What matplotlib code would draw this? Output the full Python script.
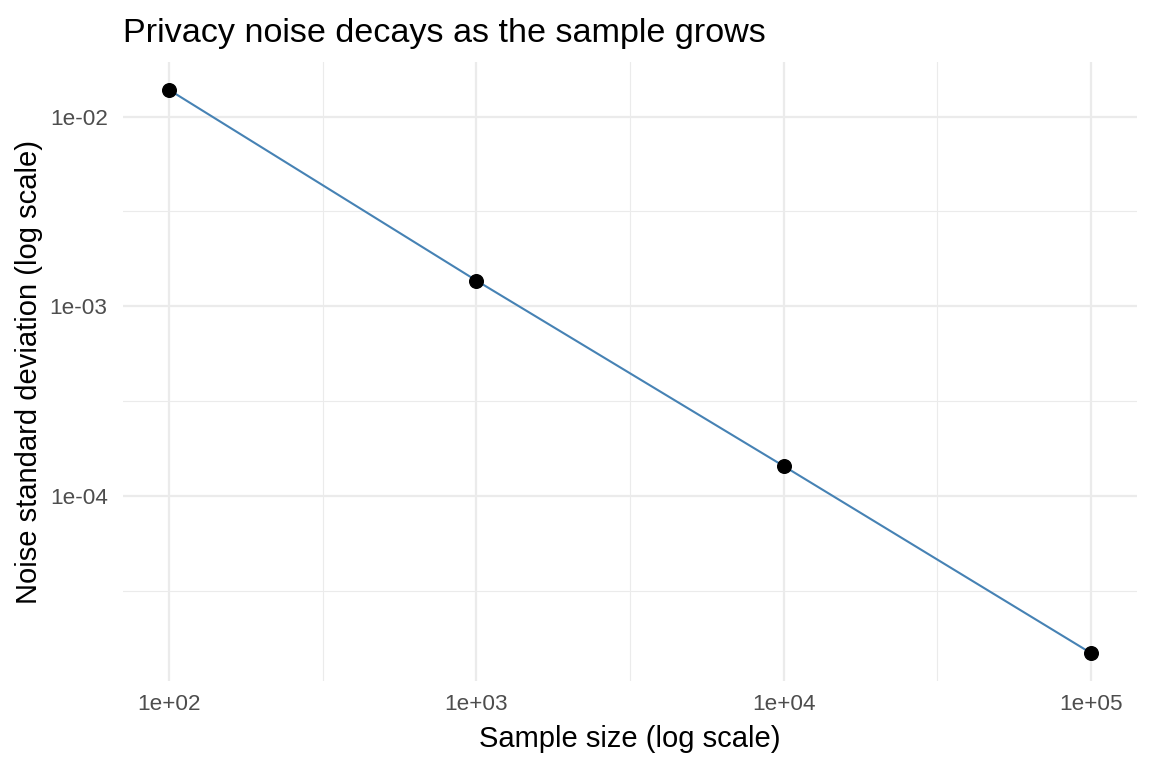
import matplotlib
matplotlib.use("Agg")
import matplotlib.pyplot as plt
import numpy as np

# data
sample_sizes = [1e2, 1e3, 1e4, 1e5]
noise_sd = [1.385e-2, 1.366e-3, 1.435e-4, 1.48e-5]

x_breaks = [1e2, 1e3, 1e4, 1e5]
x_labels = ["1e+02", "1e+03", "1e+04", "1e+05"]
y_breaks = [1e-4, 1e-3, 1e-2]
y_labels = ["1e-04", "1e-03", "1e-02"]

plt.rcParams['font.family'] = ['Liberation Sans', 'DejaVu Sans']

W, H = 1152, 768
fig = plt.figure(figsize=(W / 100, H / 100), dpi=100)
# panel placement (pixels): left 123, right 1137, top 61.7, bottom 681.2
ax = fig.add_axes([123 / W, 1 - 681.2 / H, (1137 - 123) / W, (681.2 - 61.7) / H])

ax.plot(sample_sizes, noise_sd, color='#4682B4', linewidth=1.5, zorder=3)
ax.plot(sample_sizes, noise_sd, 'o', color='black', markersize=9.8, zorder=4)

ax.set_xscale('log')
ax.set_yscale('log')

ax.set_xticks(x_breaks)
ax.set_xticklabels(x_labels)
ax.set_yticks(y_breaks)
ax.set_yticklabels(y_labels)

# minor breaks halfway between decades (in log space)
x_minor = [10 ** (np.log10(a) + 0.5) for a in x_breaks[:-1]]
y_minor = [10 ** (np.log10(a) + 0.5) for a in [1e-5, 1e-4, 1e-3]]
ax.set_xticks(x_minor, minor=True)
ax.set_yticks(y_minor, minor=True)
ax.xaxis.set_minor_formatter(matplotlib.ticker.NullFormatter())
ax.yaxis.set_minor_formatter(matplotlib.ticker.NullFormatter())

# ggplot-style 5% expansion on the log scale (set after ticks)
lx = np.log10(sample_sizes)
ly = np.log10(noise_sd)
ex = 0.05 * (lx.max() - lx.min())
ey = 0.05 * (ly.max() - ly.min())
ax.set_xlim(10 ** (lx.min() - ex), 10 ** (lx.max() + ex))
ax.set_ylim(10 ** (ly.min() - ey), 10 ** (ly.max() + ey))

ax.grid(which='major', color='#EBEBEB', linewidth=1.6)
ax.grid(which='minor', color='#EBEBEB', linewidth=0.8)
ax.set_axisbelow(True)

for s in ax.spines.values():
    s.set_visible(False)

ax.tick_params(axis='both', which='both', length=0)
ax.tick_params(axis='x', which='major', labelsize=16.2, labelcolor='#4D4D4D', pad=9)
ax.tick_params(axis='y', which='major', labelsize=16.2, labelcolor='#4D4D4D', pad=11)

fig.text(123 / W, 1 - 42 / H, "Privacy noise decays as the sample grows",
         fontsize=24.6, ha='left', va='baseline', color='black')
fig.text(630 / W, 1 - 747 / H, "Sample size (log scale)",
         fontsize=21, ha='center', va='baseline', color='black')
fig.text(36.7 / W, 1 - 371.5 / H, "Noise standard deviation (log scale)",
         fontsize=21, ha='center', va='baseline', rotation=90,
         rotation_mode='anchor', color='black')

fig.savefig("out.png", dpi=100, facecolor='white')
